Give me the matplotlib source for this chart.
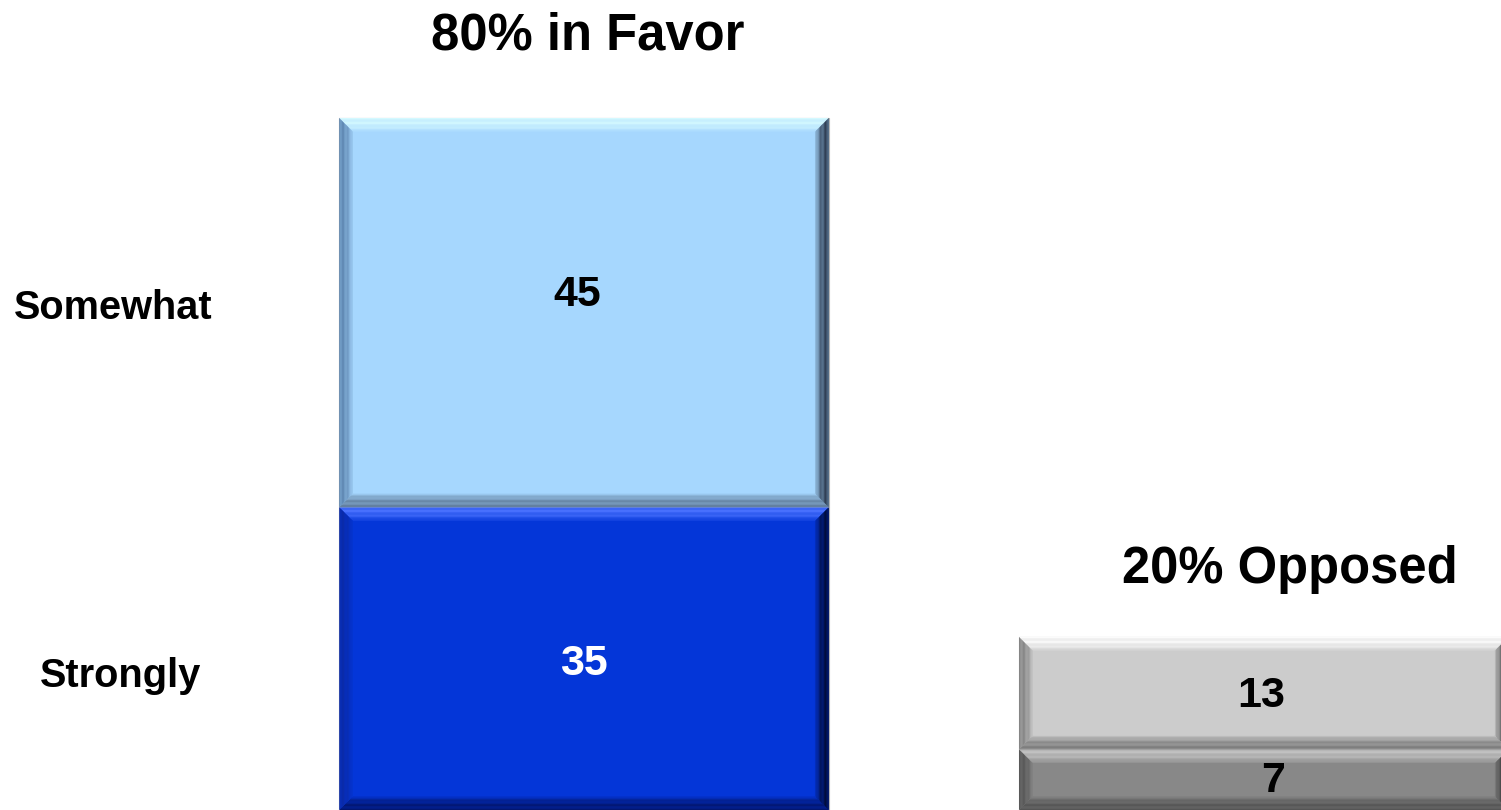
import numpy as np
import matplotlib.pyplot as plt
from matplotlib.patches import Polygon
from matplotlib.colors import to_rgb

# data
groups = ["Favor", "Opposed"]
strongly = [35, 7]
somewhat = [45, 13]
group_titles = ["80% in Favor", "20% Opposed"]
row_labels = ["Somewhat", "Strongly"]

# colours: face, top, left, right, bottom bevel
styles = {
    "fav_some": ("#a6d7fe", "#d4f9ff", "#5f87b2", "#2f3d52", "#63809f"),
    "fav_str": ("#0436d8", "#4a72ff", "#0a2aa8", "#000c3a", "#021670"),
    "opp_some": ("#cccccc", "#fbfbfb", "#858585", "#555555", "#7e7e7e"),
    "opp_str": ("#888888", "#c2c2c2", "#585858", "#383838", "#555555"),
}

plt.rcParams['font.family'] = ['Liberation Sans', 'DejaVu Sans']

W, H = 1501, 810
fig = plt.figure(figsize=(W / 100, H / 100), dpi=100)
ax = fig.add_axes([0, 0, 1, 1])
xlim = (-0.859, 1.349)
ylim = (0, 93.64)
ax.set_xlim(*xlim)
ax.set_ylim(*ylim)
ax.axis('off')

x = np.arange(len(groups))
width = 0.72
bars_str = ax.bar(x, strongly, width, color=[styles["fav_str"][0], styles["opp_str"][0]],
                  edgecolor="#b5b5b5", linewidth=0.8)
bars_some = ax.bar(x, somewhat, width, bottom=strongly,
                   color=[styles["fav_some"][0], styles["opp_some"][0]],
                   edgecolor="#b5b5b5", linewidth=0.8)

# bevel size in px -> data units
bpx = 15
bx = bpx * (xlim[1] - xlim[0]) / W
by = bpx * (ylim[1] - ylim[0]) / H


def mix(c1, c2, t):
    a, b = np.array(to_rgb(c1)), np.array(to_rgb(c2))
    return tuple(a * (1 - t) + b * t)


def bevel(patch, style, n=12):
    face, top, left, right, bottom = style
    x0, y0 = patch.get_x(), patch.get_y()
    x1, y1 = x0 + patch.get_width(), y0 + patch.get_height()
    for i in range(n):
        a, c = i / n, (i + 1) / n
        ox0, oy0, ox1, oy1 = x0 + a * bx, y0 + a * by, x1 - a * bx, y1 - a * by
        ix0, iy0, ix1, iy1 = x0 + c * bx, y0 + c * by, x1 - c * bx, y1 - c * by
        t = (i / (n - 1)) ** 2.4
        sides = [
            ([(ox0, oy1), (ox1, oy1), (ix1, iy1), (ix0, iy1)], top),
            ([(ox0, oy0), (ox1, oy0), (ix1, iy0), (ix0, iy0)], bottom),
            ([(ox0, oy0), (ox0, oy1), (ix0, iy1), (ix0, iy0)], left),
            ([(ox1, oy0), (ox1, oy1), (ix1, iy1), (ix1, iy0)], right),
        ]
        for pts, col in sides:
            ax.add_patch(Polygon(pts, closed=True, facecolor=mix(col, face, t),
                                 edgecolor='none', zorder=3))


bevel(bars_str[0], styles["fav_str"])
bevel(bars_str[1], styles["opp_str"])
bevel(bars_some[0], styles["fav_some"])
bevel(bars_some[1], styles["opp_some"])

# value labels
label_colors = [["white", "black"], ["black", "black"]]
dx = [[0, 9], [-7, -3]]
dy = [[-1, 3], [22, 2]]
for j, (bs, vals) in enumerate([(bars_str, strongly), (bars_some, somewhat)]):
    for i, b in enumerate(bs):
        ax.annotate(str(vals[i]), (b.get_x() + b.get_width() / 2, b.get_y() + b.get_height() / 2),
                    xytext=(dx[j][i] * 0.72, dy[j][i] * 0.72), textcoords='offset points',
                    ha='center', va='center_baseline', fontsize=31, fontweight='bold',
                    color=label_colors[j][i], zorder=5)

# group titles
ax.text(0.005, strongly[0] + somewhat[0] + 10.1, group_titles[0], ha='center', va='center_baseline',
        fontsize=36.5, fontweight='bold')
ax.text(1.039, strongly[1] + somewhat[1] + 8.4, group_titles[1], ha='center', va='center_baseline',
        fontsize=36.5, fontweight='bold')

# row labels
ax.text(-0.693, 58.5, row_labels[0], ha='center', va='center_baseline', fontsize=28.6, fontweight='bold')
ax.text(-0.682, 15.9, row_labels[1], ha='center', va='center_baseline', fontsize=28.6, fontweight='bold')

fig.savefig("out.png", dpi=100)
